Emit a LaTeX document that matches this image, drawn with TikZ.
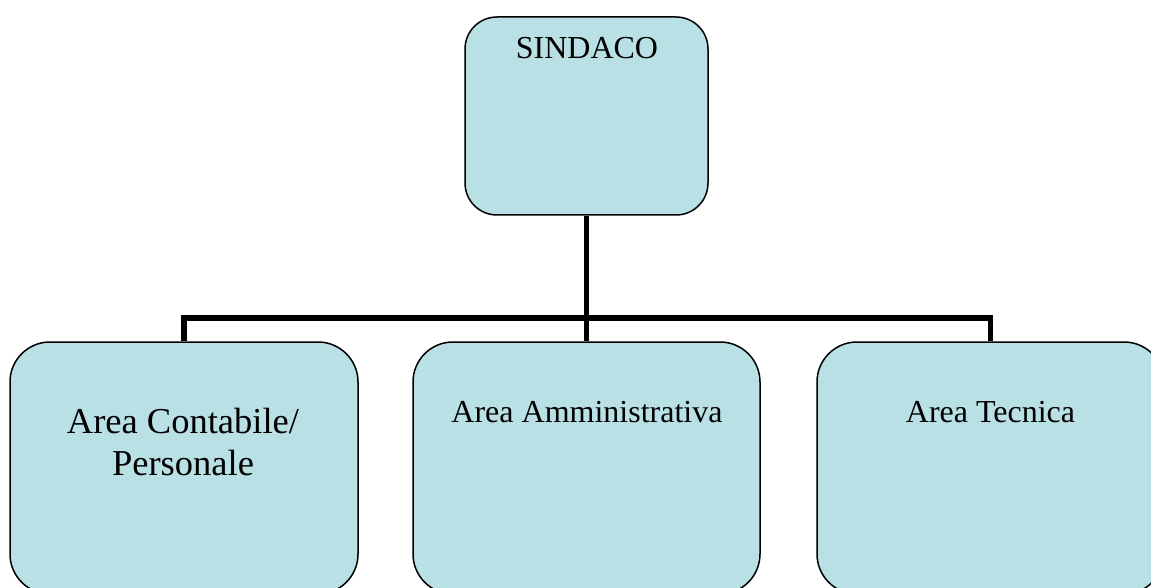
\documentclass[tikz,border=0pt]{standalone}
\usepackage{fontspec}
\setmainfont{Liberation Serif}
\definecolor{boxfill}{RGB}{185,224,228}
\begin{document}
\begin{tikzpicture}[x=1pt,y=-1pt,
  orgbox/.style={draw=black,line width=1.5pt,fill=boxfill,rounded corners=#1,rectangle,inner sep=0pt},
  orgbox/.default=40pt,
  conn/.style={draw=black,line width=5.5pt},
  lbl/.style={inner sep=0pt,font=\fontsize{32}{38}\selectfont,anchor=base},
  biglbl/.style={inner sep=0pt,font=\fontsize{36.5}{42}\selectfont,align=center,anchor=north}]
\path[use as bounding box,clip] (0,0) rectangle (1151,588);
\fill[white] (0,0) rectangle (1151,588);
% boxes
\node[orgbox=32pt,minimum width=243pt,minimum height=198pt] (sindaco) at (586.5,116) {};
\node[orgbox,minimum width=348pt,minimum height=252pt] (contab) at (184,468) {};
\node[orgbox,minimum width=347pt,minimum height=252pt] (ammin) at (586.5,468) {};
\node[orgbox,minimum width=347pt,minimum height=252pt] (tecn) at (990.5,468) {};
% labels
\node[lbl] (tsindaco) at (587,59) {SINDACO};
\node[biglbl] (tcontab) at (183,408) {Area Contabile/\\Personale};
\node[lbl] (tammin) at (587,422) {Area Amministrativa};
\node[lbl] (ttecn) at (990.5,422) {Area Tecnica};
% connectors
\coordinate (bus) at (586.5,318);
\draw[conn] (sindaco.south) -- (ammin.north);
\draw[conn] (contab.north) |- (bus);
\draw[conn] (bus) -| (tecn.north);
\end{tikzpicture}
\end{document}
